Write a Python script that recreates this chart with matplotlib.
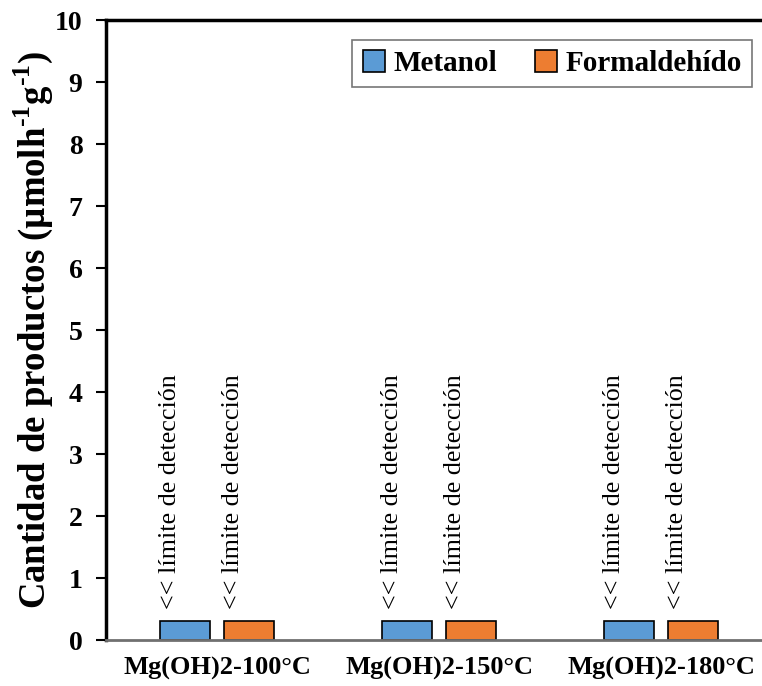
import matplotlib
matplotlib.use("Agg")
import matplotlib.pyplot as plt
import numpy as np

categories = ["Mg(OH)2-100°C", "Mg(OH)2-150°C", "Mg(OH)2-180°C"]
series_names = ["Metanol", "Formaldehído"]
metanol = [0.3, 0.3, 0.3]
formaldehido = [0.3, 0.3, 0.3]
bar_notes = ["<< límite de detección"] * 3
yticks = list(range(0, 11))

plt.rcParams["font.family"] = ["Liberation Serif", "DejaVu Serif"]
plt.rcParams["mathtext.fontset"] = "custom"
plt.rcParams["mathtext.rm"] = "Liberation Serif:bold"
plt.rcParams["mathtext.bf"] = "Liberation Serif:bold"

fig = plt.figure(figsize=(7.62, 6.86), dpi=100)
ax = fig.add_axes([106 / 762, 46 / 686, 666 / 762, 620 / 686])

x = np.arange(len(categories))
w = 0.225
off = 0.143
colors = ["#5b9bd5", "#ed7d31"]
ax.bar(x - off, metanol, w, color=colors[0], edgecolor="black", linewidth=1.2, label=series_names[0])
ax.bar(x + off, formaldehido, w, color=colors[1], edgecolor="black", linewidth=1.2, label=series_names[1])

for i in range(len(categories)):
    for xc in (x[i] - off, x[i] + off):
        ax.text(xc - 0.07, 0.5, bar_notes[i], rotation=90, ha="center", va="bottom",
                fontsize=18.8)

ax.set_xlim(-0.5, 2.5)
ax.set_ylim(0, 10)
ax.set_yticks(yticks)
ax.set_xticks(x)
ax.set_xticklabels(categories, fontsize=19, fontweight="bold")
ax.tick_params(axis="x", length=0, pad=12)
ax.tick_params(axis="y", direction="out", length=7, width=1.5, labelsize=20, pad=10)
for lab in ax.get_yticklabels():
    lab.set_fontweight("bold")

ax.set_ylabel("Cantidad de productos (µmolh$^{‐1}$g$^{‐1}$)", fontsize=26.5, fontweight="bold", labelpad=0)

ax.spines["left"].set_linewidth(2.5)
ax.spines["top"].set_linewidth(2.5)
ax.spines["right"].set_visible(False)
ax.spines["bottom"].set_color("#707070")
ax.spines["bottom"].set_linewidth(2)

leg = ax.legend(loc="upper right", bbox_to_anchor=(0.970, 0.968), ncol=2, borderaxespad=0,
                prop={"weight": "bold", "size": 21}, frameon=True, fancybox=False,
                handlelength=0.75, handleheight=0.75, columnspacing=1.3, handletextpad=0.3,
                borderpad=0.35)
leg.get_frame().set_edgecolor("#555555")
leg.get_frame().set_linewidth(1.2)

fig.savefig("out.png", dpi=100)
